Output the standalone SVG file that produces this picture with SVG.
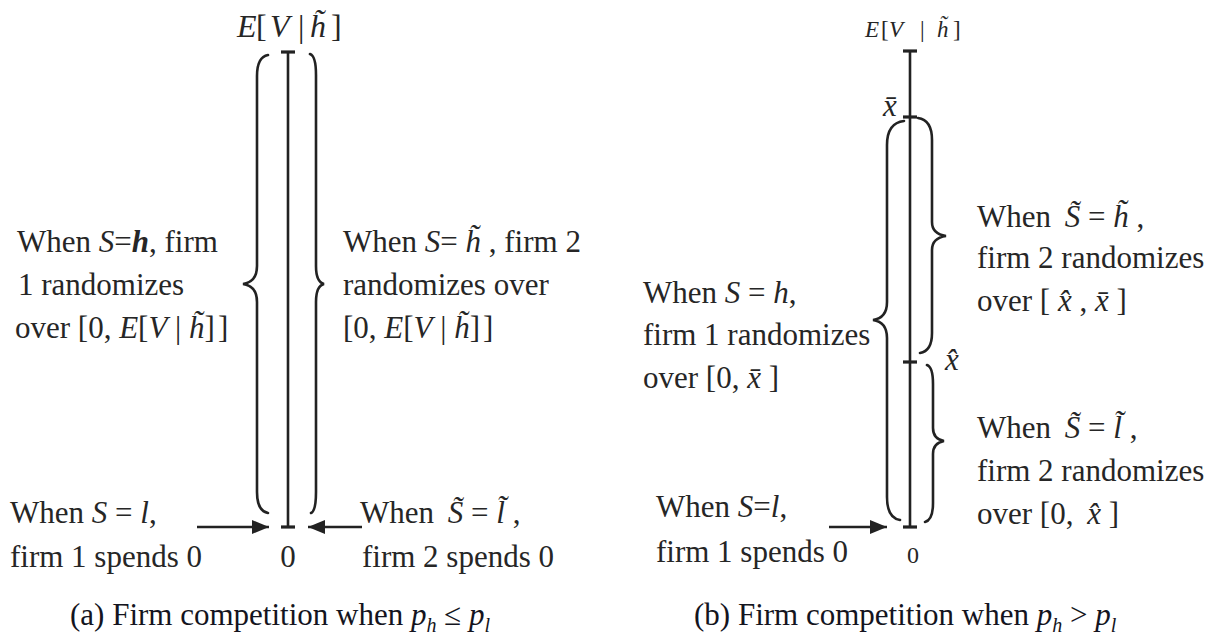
<svg xmlns="http://www.w3.org/2000/svg" width="1229" height="642" viewBox="0 0 1229 642">
<style>
text{font-family:"Liberation Serif","Times New Roman",serif;font-size:31px;fill:#262626}
.i{font-style:italic}
.bi{font-style:italic;font-weight:bold}
.m32{font-size:32px}
.m23{font-size:23px}
.cap{fill:#141420}
.sub{font-size:20px;font-style:italic}
.ax{stroke:#222;stroke-width:2.6;fill:none}
.tk{stroke:#222;stroke-width:3.2;fill:none}
.br{stroke:#222;stroke-width:2.6;fill:none;stroke-linecap:round}
.ar{stroke:#222;stroke-width:2.6;fill:none}
</style>
<defs>
<marker id="ah" markerUnits="userSpaceOnUse" markerWidth="18" markerHeight="14" refX="17" refY="7" orient="auto">
<path d="M0,0 L17,7 L0,14 Z" fill="#222"/>
</marker>
</defs>
<rect width="1229" height="642" fill="#ffffff"/>

<!-- Panel (a) -->
<g id="a-axis">
<line class="ax" x1="288" y1="52" x2="288" y2="527"/>
<line class="tk" x1="281" y1="52" x2="295" y2="52"/>
<line class="tk" x1="281" y1="527" x2="295" y2="527"/>
<text class="i m32" x="237" y="37">E</text>
<text class="m32" x="256" y="37">[</text>
<text class="i m32" x="270" y="37">V</text>
<text class="m32" x="298" y="37">|</text>
<text class="i m32" x="310" y="37">h̃</text>
<text class="m32" x="331" y="37">]</text>
<text x="288" y="567" text-anchor="middle">0</text>
</g>
<g id="a-brace-left">
<path class="br" d="M268 55 Q257 57 257 76 L257 266 Q257 282 243 284 Q257 286 257 302 L257 492 Q257 511 268 513"/>
</g>
<g id="a-brace-right">
<path class="br" d="M310 54 Q316 56 316 75 L316 266 Q316 282 324 284 Q316 286 316 302 L316 492 Q316 511 311 513"/>
</g>
<g id="a-firm1-high">
<text x="17" y="252">When <tspan class="i">S</tspan>=<tspan class="bi">h</tspan>, firm</text>
<text x="18" y="295">1 randomizes</text>
<text x="15" y="338">over [0, <tspan class="i">E</tspan>[<tspan class="i">V</tspan> | <tspan class="i">h̃</tspan>]<tspan dx="3">]</tspan></text>
</g>
<g id="a-firm2-high">
<text x="343" y="252">When <tspan class="i">S</tspan>= <tspan class="i">h̃</tspan> , firm 2</text>
<text x="343" y="295">randomizes over</text>
<text x="343" y="338">[0, <tspan class="i">E</tspan>[<tspan class="i">V</tspan> | <tspan class="i">h̃</tspan>]<tspan dx="3">]</tspan></text>
</g>
<g id="a-firm1-low">
<text x="10" y="523">When <tspan class="i">S</tspan> = <tspan class="i">l</tspan>,</text>
<text x="10" y="567">firm 1 spends 0</text>
</g>
<g id="a-firm2-low">
<text x="360" y="523">When <tspan class="i" dx="6">S̃</tspan> = <tspan class="i">l̃</tspan> ,</text>
<text x="362" y="567">firm 2 spends 0</text>
</g>
<g id="a-caption">
<text class="cap" x="70" y="625">(a) Firm competition when <tspan class="i">p</tspan><tspan class="sub" dy="7">h</tspan><tspan dy="-7"> ≤ </tspan><tspan class="i">p</tspan><tspan class="sub" dy="7">l</tspan></text>
</g>

<!-- Panel (b) -->
<g id="b-axis">
<line class="ax" x1="910" y1="51" x2="910" y2="527"/>
<line class="tk" x1="903" y1="51" x2="917" y2="51"/>
<line class="tk" x1="903" y1="117" x2="917" y2="117"/>
<line class="tk" x1="903" y1="362" x2="917" y2="362"/>
<line class="tk" x1="903" y1="527" x2="917" y2="527"/>
<text class="i m23" x="865" y="37">E</text>
<text class="m23" x="881" y="37">[</text>
<text class="i m23" x="889" y="37">V</text>
<text class="m23" x="920" y="37">|</text>
<text class="i m23" x="937" y="37">h̃</text>
<text class="m23" x="953" y="37">]</text>
<text class="i" x="890" y="116" text-anchor="middle">x̄</text>
<text class="i" x="952" y="370" text-anchor="middle">x̂</text>
<text x="913" y="563" text-anchor="middle" style="font-size:24px">0</text>
</g>
<g id="b-brace-left">
<path class="br" d="M904 121 Q887 123 887 145 L887 302 Q887 318 873 320 Q887 322 887 338 L887 497 Q887 518 900 520"/>
</g>
<g id="b-brace-upper-right">
<path class="br" d="M918 118 Q932 120 932 140 L932 222 Q932 234 946 236 Q932 238 932 250 L932 333 Q932 351 920 353"/>
</g>
<g id="b-brace-lower-right">
<path class="br" d="M927 365 Q933 367 933 384 L933 428 Q933 439 944 441 Q933 443 933 454 L933 503 Q933 520 925 522"/>
</g>
<g id="b-firm1-high">
<text x="643" y="303">When <tspan class="i">S</tspan> = <tspan class="i">h</tspan>,</text>
<text x="643" y="345">firm 1 randomizes</text>
<text x="643" y="388">over [0, <tspan class="i">x̄</tspan> ]</text>
</g>
<g id="b-firm2-high">
<text x="977" y="227">When <tspan class="i" dx="6">S̃</tspan> = <tspan class="i">h̃</tspan> ,</text>
<text x="977" y="268">firm 2 randomizes</text>
<text x="977" y="311">over [ <tspan class="i">x̂</tspan> , <tspan class="i">x̄</tspan> ]</text>
</g>
<g id="b-firm2-low">
<text x="977" y="438">When <tspan class="i" dx="6">S̃</tspan> = <tspan class="i">l̃</tspan> ,</text>
<text x="977" y="481">firm 2 randomizes</text>
<text x="977" y="524">over [0, <tspan class="i" dx="6">x̂</tspan> ]</text>
</g>
<g id="b-firm1-low">
<text x="656" y="517">When <tspan class="i">S</tspan>=<tspan class="i">l</tspan>,</text>
<text x="656" y="562">firm 1 spends 0</text>
</g>
<g id="b-caption">
<text class="cap" x="694" y="625">(b) Firm competition when <tspan class="i">p</tspan><tspan class="sub" dy="7">h</tspan><tspan dy="-7"> &gt; </tspan><tspan class="i">p</tspan><tspan class="sub" dy="7">l</tspan></text>
</g>

<g id="connectors">
<line class="ar" x1="197" y1="527" x2="269" y2="527" marker-end="url(#ah)"/>
<line class="ar" x1="362" y1="527" x2="308" y2="527" marker-end="url(#ah)"/>
<line class="ar" x1="829" y1="527" x2="887" y2="527" marker-end="url(#ah)"/>
</g>
</svg>
